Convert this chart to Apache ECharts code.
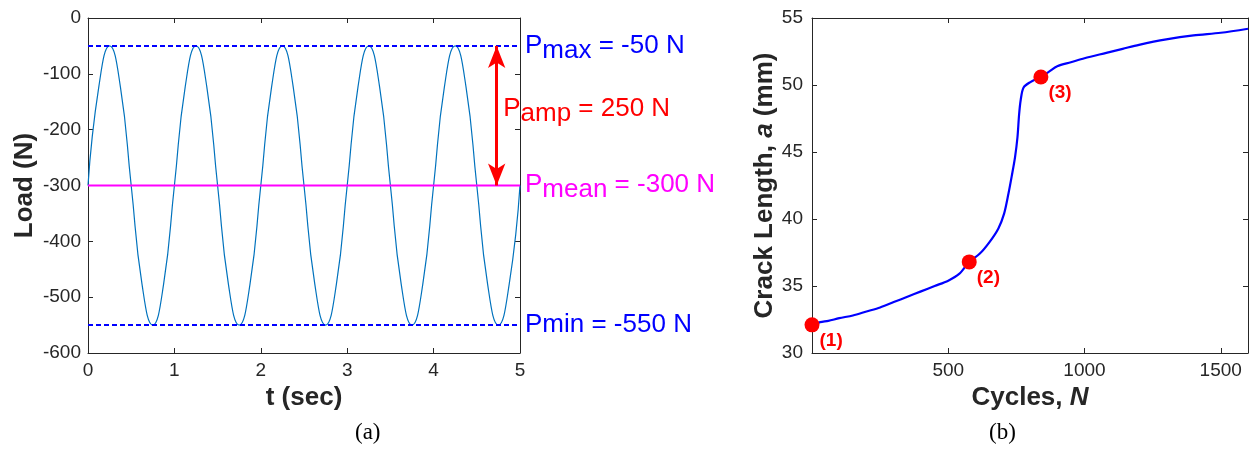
<!DOCTYPE html>
<html>
<head>
<meta charset="utf-8">
<script src="https://cdn.jsdelivr.net/npm/echarts@6/dist/echarts.min.js"></script>
<style>
  html, body { margin: 0; padding: 0; background: #ffffff; }
  #chart { width: 1249px; height: 450px; }
</style>
</head>
<body>
<div id="chart"></div>
<script>
// ---- (a) cyclic load signal, sampled every 1/8 s ----
const loadTime = [
  0, 0.125, 0.25, 0.375, 0.5, 0.625, 0.75, 0.875,
  1, 1.125, 1.25, 1.375, 1.5, 1.625, 1.75, 1.875,
  2, 2.125, 2.25, 2.375, 2.5, 2.625, 2.75, 2.875,
  3, 3.125, 3.25, 3.375, 3.5, 3.625, 3.75, 3.875,
  4, 4.125, 4.25, 4.375, 4.5, 4.625, 4.75, 4.875,
  5
];
const loadValue = [
  -300, -123.2, -50, -123.2, -300, -476.8, -550, -476.8,
  -300, -123.2, -50, -123.2, -300, -476.8, -550, -476.8,
  -300, -123.2, -50, -123.2, -300, -476.8, -550, -476.8,
  -300, -123.2, -50, -123.2, -300, -476.8, -550, -476.8,
  -300, -123.2, -50, -123.2, -300, -476.8, -550, -476.8,
  -300
];
const pMax = -50;
const pMin = -550;
const pMean = -300;
const pAmp = 250;
const ampArrowTime = 4.73;
const ampLabelAt = [4.8, -167];

// ---- (b) crack growth curve ----
const crackCycles = [
  0, 30, 60, 100, 150, 200, 250, 300, 350, 400, 450, 500, 540, 577,
  615, 652, 684, 705, 721, 733, 745, 754, 760, 766, 776, 800, 840,
  870, 900, 950, 1000, 1080, 1140, 1200, 1300, 1400, 1500, 1600
];
const crackLength = [
  32.1, 32.3, 32.4, 32.6, 32.8, 33.1, 33.4, 33.8, 34.2, 34.6, 35.0, 35.4, 35.9, 36.8,
  37.4, 38.3, 39.3, 40.4, 41.9, 43.2, 44.6, 46.1, 47.8, 48.9, 49.8, 50.2, 50.6,
  51.0, 51.4, 51.7, 52.0, 52.4, 52.7, 53.0, 53.4, 53.7, 53.9, 54.2
];
const markerCycles = [0, 577, 840];
const markerLength = [32.1, 36.8, 50.6];
const markerLabels = ['(1)', '(2)', '(3)'];

const INK = '#262626';
const FONT = '"Liberation Sans", Arial, Helvetica, sans-serif';
const TICK_FONT = 19;
const TITLE_FONT = 26;

const zip = (xs, ys) => xs.map((x, i) => [x, ys[i]]);

function frameAxis(extra) {
  return Object.assign({
    type: 'value',
    axisLine: { show: true, onZero: false, lineStyle: { color: INK, width: 1 } },
    axisTick: { show: true, inside: true, length: 5, lineStyle: { color: INK, width: 1 } },
    splitLine: { show: false },
    axisLabel: { show: false }
  }, extra);
}
function shownLabels(extra) {
  return Object.assign({
    show: true, color: INK, fontSize: TICK_FONT, fontFamily: FONT, margin: 8,
    showMinLabel: true, showMaxLabel: true
  }, extra || {});
}
const titleStyle = { color: INK, fontSize: TITLE_FONT, fontWeight: 'bold', fontFamily: FONT };

function subLabel(color, main, sub, tail) {
  return {
    show: true,
    color: color,
    fontSize: 26,
    fontFamily: FONT,
    formatter: '{p|' + main + '}{s|' + sub + '}{t|' + tail + '}',
    rich: {
      p: { color: color, fontSize: 26, fontFamily: FONT, padding: [0, 0, 5, 0], verticalAlign: 'bottom' },
      s: { color: color, fontSize: 26, fontFamily: FONT, verticalAlign: 'bottom' },
      t: { color: color, fontSize: 26, fontFamily: FONT, padding: [0, 0, 5, 0], verticalAlign: 'bottom' }
    }
  };
}

const chart = echarts.init(document.getElementById('chart'), null, { renderer: 'canvas' });

const option = {
  animation: false,
  backgroundColor: '#ffffff',
  grid: [
    { left: 88, right: 729, top: 18, bottom: 97, containLabel: false, outerBoundsMode: 'none' },
    { left: 812, right: 1, top: 18, bottom: 97, containLabel: false, outerBoundsMode: 'none' }
  ],
  xAxis: [
    frameAxis({
      gridIndex: 0, position: 'bottom', min: 0, max: 5, interval: 1,
      axisLabel: shownLabels(),
      name: 't (sec)', nameLocation: 'middle', nameGap: 27, nameTextStyle: titleStyle
    }),
    frameAxis({ gridIndex: 0, position: 'top', min: 0, max: 5, interval: 1 }),
    frameAxis({
      gridIndex: 1, position: 'bottom', min: 0, max: 1600, interval: 500,
      axisLabel: shownLabels({ formatter: v => (v % 500 === 0 && v !== 0) ? String(v) : '' }),
      name: 'Cycles, {i|N}', nameLocation: 'middle', nameGap: 27,
      nameTextStyle: Object.assign({}, titleStyle, {
        rich: { i: { fontStyle: 'italic', fontWeight: 'bold', fontSize: TITLE_FONT, color: INK, fontFamily: FONT } }
      })
    }),
    frameAxis({ gridIndex: 1, position: 'top', min: 0, max: 1600, interval: 500 })
  ],
  yAxis: [
    frameAxis({
      gridIndex: 0, position: 'left', min: -600, max: 0, interval: 100,
      axisLabel: shownLabels({ margin: 7 }),
      name: 'Load (N)', nameLocation: 'middle', nameGap: 50, nameRotate: 90, nameTextStyle: titleStyle
    }),
    frameAxis({ gridIndex: 0, position: 'right', min: -600, max: 0, interval: 100 }),
    frameAxis({
      gridIndex: 1, position: 'left', min: 30, max: 55, interval: 5,
      axisLabel: shownLabels({ margin: 9 }),
      name: 'Crack Length, {i|a} (mm)', nameLocation: 'middle', nameGap: 33, nameRotate: 90,
      nameTextStyle: Object.assign({}, titleStyle, {
        rich: { i: { fontStyle: 'italic', fontWeight: 'bold', fontSize: TITLE_FONT, color: INK, fontFamily: FONT } }
      })
    }),
    frameAxis({ gridIndex: 1, position: 'right', min: 30, max: 55, interval: 5 })
  ],
  series: [
    {
      name: 'load',
      type: 'line', xAxisIndex: 0, yAxisIndex: 0,
      data: zip(loadTime, loadValue),
      smooth: 0.5, showSymbol: false, symbol: 'none',
      lineStyle: { color: '#0072BD', width: 1.2 },
      z: 3
    },
    {
      name: 'pmax',
      type: 'line', xAxisIndex: 0, yAxisIndex: 0,
      data: [[0, pMax], [5, pMax]],
      showSymbol: false, symbol: 'none',
      lineStyle: { color: '#0000FF', width: 2, type: [5, 3] },
      endLabel: Object.assign(subLabel('#0000FF', 'P', 'max', ' = ' + pMax + ' N'), { distance: 5, offset: [0, 2] }),
      z: 4
    },
    {
      name: 'pmin',
      type: 'line', xAxisIndex: 0, yAxisIndex: 0,
      data: [[0, pMin], [5, pMin]],
      showSymbol: false, symbol: 'none',
      lineStyle: { color: '#0000FF', width: 2, type: [5, 3] },
      endLabel: {
        show: true, distance: 5, color: '#0000FF', fontSize: 26, fontFamily: FONT,
        formatter: 'Pmin = ' + pMin + ' N'
      },
      z: 4
    },
    {
      name: 'pmean',
      type: 'line', xAxisIndex: 0, yAxisIndex: 0,
      data: [[0, pMean], [5, pMean]],
      showSymbol: false, symbol: 'none',
      lineStyle: { color: '#FF00FF', width: 2 },
      endLabel: Object.assign(subLabel('#FF00FF', 'P', 'mean', ' = ' + pMean + ' N'), { distance: 5, offset: [0, 2] }),
      z: 4
    },
    {
      name: 'pamp',
      type: 'scatter', xAxisIndex: 0, yAxisIndex: 0,
      data: [ampLabelAt],
      symbolSize: 1,
      itemStyle: { color: 'rgba(0,0,0,0)', opacity: 1 },
      label: Object.assign(subLabel('#FF0000', 'P', 'amp', ' = ' + pAmp + ' N'), { position: 'right', distance: 0 }),
      markLine: {
        silent: true,
        symbol: ['arrow', 'arrow'],
        symbolSize: [13, 22],
        lineStyle: { color: '#FF0000', width: 3, type: 'solid', opacity: 1 },
        itemStyle: { color: '#FF0000', opacity: 1 },
        label: { show: false },
        data: [[{ coord: [ampArrowTime, pMax] }, { coord: [ampArrowTime, pMean] }]]
      },
      z: 5
    },
    {
      name: 'crack',
      type: 'line', xAxisIndex: 2, yAxisIndex: 2,
      data: zip(crackCycles, crackLength),
      smooth: 0.3, showSymbol: false, symbol: 'none',
      lineStyle: { color: '#0000FF', width: 2.2 },
      z: 3
    },
    {
      name: 'stages',
      type: 'scatter', xAxisIndex: 2, yAxisIndex: 2,
      data: zip(markerCycles, markerLength).map((p, i) => ({ value: p, name: markerLabels[i] })),
      symbol: 'circle', symbolSize: 15,
      itemStyle: { color: '#FF0000', opacity: 1 },
      label: {
        show: true, position: [15, 14], align: 'left', verticalAlign: 'top',
        formatter: p => p.name,
        color: '#FF0000', fontSize: 19, fontWeight: 'bold', fontFamily: FONT
      },
      clip: false,
      z: 6
    }
  ],
  graphic: [
    {
      type: 'text', left: 355, top: 421,
      style: { text: '(a)', fill: '#000000', fontSize: 23, fontFamily: '"Liberation Serif", "DejaVu Serif", serif' }
    },
    {
      type: 'text', left: 989, top: 421,
      style: { text: '(b)', fill: '#000000', fontSize: 23, fontFamily: '"Liberation Serif", "DejaVu Serif", serif' }
    }
  ]
};

chart.setOption(option);
</script>
</body>
</html>
